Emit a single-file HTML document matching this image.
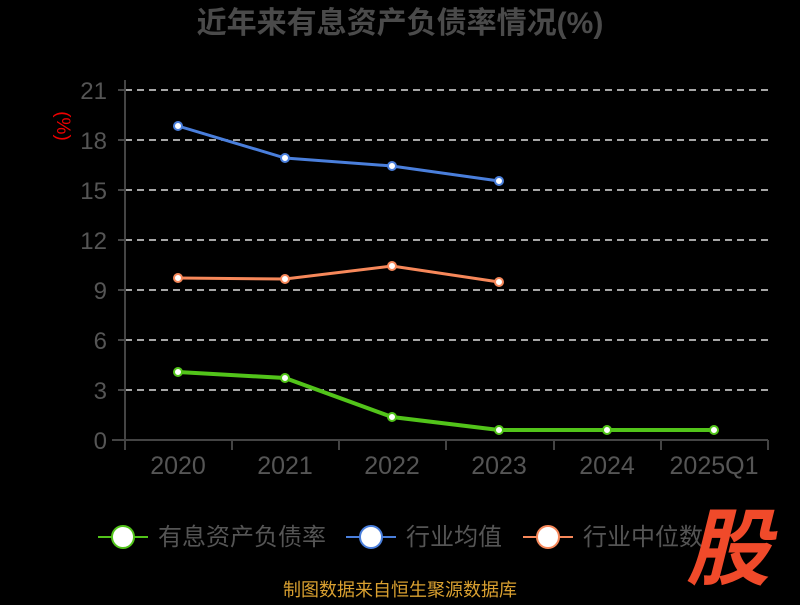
<!DOCTYPE html>
<html><head><meta charset="utf-8"><style>
body{margin:0;background:#000;width:800px;height:600px;overflow:hidden}
text{font-family:"Liberation Sans","Noto Sans CJK SC",sans-serif}
</style></head><body>
<svg width="800" height="600" xmlns="http://www.w3.org/2000/svg">
<text x="400" y="33" text-anchor="middle" font-size="30" font-weight="bold" fill="#4a4a4a">近年来有息资产负债率情况(%)</text>
<text x="57" y="126" font-size="19" fill="#e00" transform="rotate(90 57 126)" text-anchor="middle">(%)</text>
<g stroke="#ddd" stroke-width="1.5" stroke-dasharray="7,5">
<line x1="125" y1="90" x2="768" y2="90"/><line x1="125" y1="140" x2="768" y2="140"/><line x1="125" y1="190" x2="768" y2="190"/><line x1="125" y1="240" x2="768" y2="240"/><line x1="125" y1="290" x2="768" y2="290"/><line x1="125" y1="340" x2="768" y2="340"/><line x1="125" y1="390" x2="768" y2="390"/>
</g>
<g stroke="#444" stroke-width="2">
<line x1="125" y1="80" x2="125" y2="441"/><line x1="112" y1="440" x2="768" y2="440"/>
<line x1="118" y1="90" x2="125" y2="90"/><line x1="118" y1="140" x2="125" y2="140"/><line x1="118" y1="190" x2="125" y2="190"/><line x1="118" y1="240" x2="125" y2="240"/><line x1="118" y1="290" x2="125" y2="290"/><line x1="118" y1="340" x2="125" y2="340"/><line x1="118" y1="390" x2="125" y2="390"/>
<line x1="125" y1="440" x2="125" y2="450"/><line x1="232" y1="440" x2="232" y2="450"/><line x1="339" y1="440" x2="339" y2="450"/><line x1="446" y1="440" x2="446" y2="450"/><line x1="554" y1="440" x2="554" y2="450"/><line x1="661" y1="440" x2="661" y2="450"/><line x1="768" y1="440" x2="768" y2="450"/>
</g>
<g font-size="24" fill="#555" text-anchor="end">
<text x="107" y="99">21</text><text x="107" y="149">18</text><text x="107" y="199">15</text><text x="107" y="249">12</text><text x="107" y="299">9</text><text x="107" y="349">6</text><text x="107" y="399">3</text><text x="107" y="449">0</text>
</g>
<g font-size="25" fill="#555" text-anchor="middle">
<text x="178" y="474">2020</text><text x="285" y="474">2021</text><text x="392" y="474">2022</text><text x="499" y="474">2023</text><text x="607" y="474">2024</text><text x="714" y="474">2025Q1</text>
</g>
<polyline points="178,126 285,158 392,166 499,181" fill="none" stroke="#4a7fdc" stroke-width="3"/>
<g fill="#fff" stroke="#4a7fdc" stroke-width="2"><circle cx="178" cy="126" r="4"/><circle cx="285" cy="158" r="4"/><circle cx="392" cy="166" r="4"/><circle cx="499" cy="181" r="4"/></g>
<polyline points="178,278 285,279 392,266 499,282" fill="none" stroke="#f7885a" stroke-width="3"/>
<g fill="#fff" stroke="#f7885a" stroke-width="2"><circle cx="178" cy="278" r="4"/><circle cx="285" cy="279" r="4"/><circle cx="392" cy="266" r="4"/><circle cx="499" cy="282" r="4"/></g>
<polyline points="178,372 285,378 392,417 499,430 607,430 714,430" fill="none" stroke="#52c41a" stroke-width="4"/>
<g fill="#fff" stroke="#52c41a" stroke-width="2"><circle cx="178" cy="372" r="4"/><circle cx="285" cy="378" r="4"/><circle cx="392" cy="417" r="4"/><circle cx="499" cy="430" r="4"/><circle cx="607" cy="430" r="4"/><circle cx="714" cy="430" r="4"/></g>
<line x1="98" y1="537" x2="148" y2="537" stroke="#52c41a" stroke-width="2"/><circle cx="123" cy="537" r="11" fill="#fff" stroke="#52c41a" stroke-width="2"/>
<text x="158" y="545" font-size="24" fill="#555">有息资产负债率</text>
<line x1="346" y1="537" x2="396" y2="537" stroke="#4a7fdc" stroke-width="2"/><circle cx="371" cy="537" r="11" fill="#fff" stroke="#4a7fdc" stroke-width="2"/>
<text x="406" y="545" font-size="24" fill="#555">行业均值</text>
<line x1="523" y1="537" x2="573" y2="537" stroke="#f7885a" stroke-width="2"/><circle cx="548" cy="537" r="11" fill="#fff" stroke="#f7885a" stroke-width="2"/>
<text x="583" y="545" font-size="24" fill="#555">行业中位数</text>
<text x="686" y="578" font-size="84" font-weight="bold" fill="#f04a2a" font-style="italic">股</text>
<text x="400" y="596" text-anchor="middle" font-size="18" fill="#d9a030">制图数据来自恒生聚源数据库</text>
</svg>
</body></html>
